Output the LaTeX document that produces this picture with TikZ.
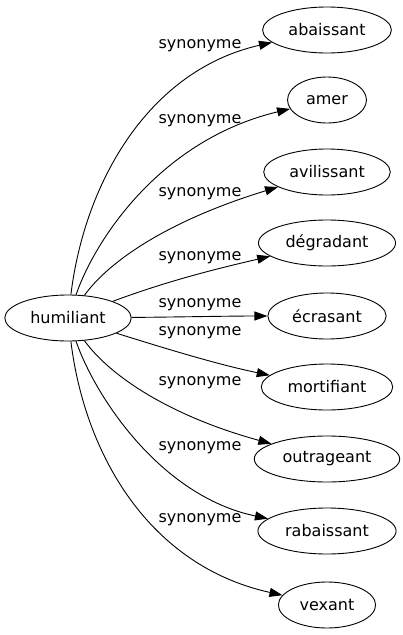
\documentclass[tikz,border=0pt]{standalone}
\usepackage{fontspec}
\setmainfont{DejaVu Sans}
\usetikzlibrary{shapes.geometric,arrows.meta}
\tikzset{
  syn node/.style={draw,ellipse,line width=0.9pt,inner xsep=7pt,minimum height=46pt},
  syn edge/.style={line width=0.9pt,-{Triangle[length=13pt,width=9pt]}},
  syn label/.style={inner sep=0pt}
}
\begin{document}
\begin{tikzpicture}[x=1pt,y=-1pt,font=\fontsize{16}{19}\selectfont]
  \useasboundingbox (0,0) rectangle (402,635);
  \node[syn node] (hum) at (68,318) {humiliant};
  \foreach \nm/\py/\txt in {%
    aba/30/abaissant, ame/100/amer, avi/172/avilissant,
    deg/243/dégradant, ecr/316/écrasant, mor/387/mortifiant,
    out/459/outrageant, rab/531/rabaissant, vex/605/vexant}
  {
    \node[syn node] (\nm) at (327,\py) {\txt};
  }
  \foreach \i/\py in {1/46, 2/121, 3/194, 4/258, 5/305, 6/333, 7/383, 8/448, 9/520}
  {
    \node[syn label] (lab\i) at (200,\py) {synonyme};
  }
  \foreach \nm/\ax/\ay/\bx/\by in {%
    aba/85/180/150/70, ame/95/240/160/140, avi/110/260/170/220,
    deg/170/280/220/268, ecr/180/317/230/316, mor/170/350/220/365,
    out/110/376/170/416, rab/95/396/160/496, vex/85/456/150/566}
  {
    \draw[syn edge] (hum) .. controls (\ax,\ay) and (\bx,\by) .. (\nm);
  }
\end{tikzpicture}
\end{document}
